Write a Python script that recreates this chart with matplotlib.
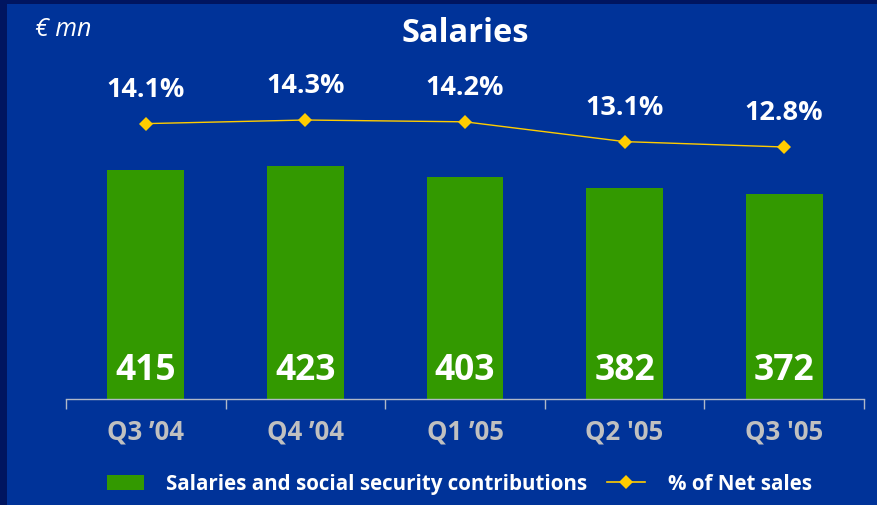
import numpy as np
import matplotlib.pyplot as plt
from matplotlib.patches import Rectangle
from matplotlib.lines import Line2D

plt.rcParams['font.family'] = ['Open Sans', 'DejaVu Sans']

quarters = ["Q3 \u201904", "Q4 \u201904", "Q1 \u201905", "Q2 '05", "Q3 '05"]
salaries = [415, 423, 403, 382, 372]
pct_net_sales = [14.1, 14.3, 14.2, 13.1, 12.8]

bg = '#003399'
frame = '#001560'
green = '#339900'
gold = '#ffcc00'

W, H = 877, 506
fig = plt.figure(figsize=(W / 100, H / 100), dpi=100)
fig.patch.set_facecolor(frame)
# main panel sits inside a thin dark frame (top and left)
fig.add_artist(Rectangle((7 / W, 0), 1, 1 - 5 / H, transform=fig.transFigure,
                         facecolor=bg, edgecolor='none', zorder=0))

ax = fig.add_axes([66 / W, 1 - 400 / H, 798 / W, 340 / H])
ax.set_facecolor('none')
x = np.arange(len(quarters))
ax.bar(x, salaries, width=0.48, color=green, zorder=2)
ax.set_xlim(-0.5, len(quarters) - 0.5)
ax.set_ylim(0, 617)

for xi, v in zip(x, salaries):
    ax.text(xi, 52, str(v), ha='center', va='center', color='white',
            fontsize=25.5, fontweight='bold')

for s in ['top', 'right', 'left']:
    ax.spines[s].set_visible(False)
ax.spines['bottom'].set_color('#b0b8c8')
ax.spines['bottom'].set_linewidth(1)
ax.set_yticks([])
ax.set_xticks(np.arange(-0.5, len(quarters)), minor=False)
ax.set_xticklabels([])
ax.tick_params(axis='x', length=7, color='#b0b8c8', width=1, direction='out')
for xi, q in zip(x, quarters):
    ax.text(xi, -0.095, q, transform=ax.get_xaxis_transform(), ha='center',
            va='center', color='#c0c0c0', fontsize=18.5, fontweight='bold')

ax2 = ax.twinx()
ax2.set_ylim(-1.2, 17.69)
ax2.plot(x, pct_net_sales, color=gold, lw=1, marker='D', markersize=7,
         markeredgewidth=0, zorder=3)
ax2.axis('off')
for xi, p in zip(x, pct_net_sales):
    ax2.annotate(f'{p}%', (xi, p), xytext=(0, 35), textcoords='offset pixels',
                 ha='center', va='center', color='white', fontsize=19.5,
                 fontweight='bold')

fig.text(465 / W, 1 - 33 / H, 'Salaries', ha='center', va='center',
         color='white', fontsize=23.5, fontweight='bold')
fig.text(35 / W, 1 - 30 / H, '\u20ac mn', ha='left', va='center',
         color='white', fontsize=18, style='italic')

# legend
ly = 1 - 485 / H
fig.add_artist(Rectangle((107 / W, ly - 6 / H), 37 / W, 15 / H,
                         transform=fig.transFigure, facecolor=green,
                         edgecolor='none'))
fig.text(166 / W, ly, 'Salaries and social security contributions',
         ha='left', va='center', color='white', fontsize=14.8, fontweight='bold')
fig.add_artist(Line2D([607 / W, 645 / W], [ly + 2 / H, ly + 2 / H],
                      transform=fig.transFigure, color=gold, lw=1.2))
fig.add_artist(Line2D([626 / W], [ly + 2 / H], transform=fig.transFigure,
                      color=gold, marker='D', markersize=7, markeredgewidth=0))
fig.text(668 / W, ly, '% of Net sales', ha='left', va='center',
         color='white', fontsize=14.8, fontweight='bold')

fig.savefig('out.png', dpi=100, facecolor=fig.get_facecolor())
